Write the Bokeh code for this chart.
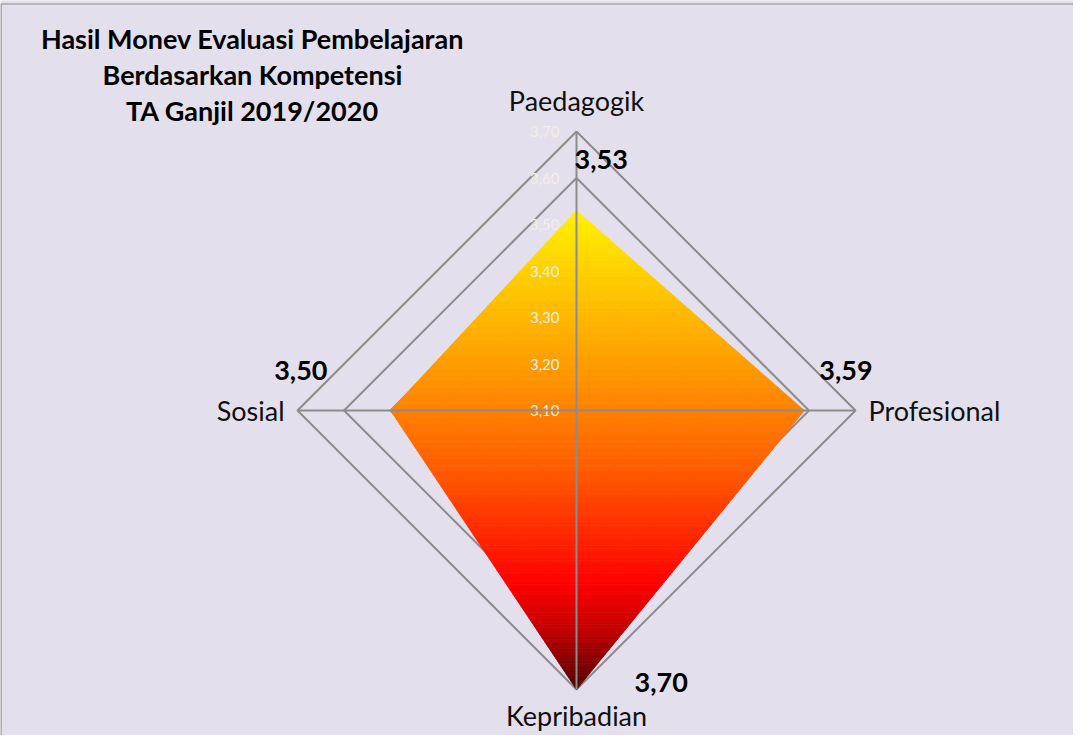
import numpy as np
from bokeh.plotting import figure
from bokeh.models import Range1d
from bokeh.embed import file_html
from bokeh.resources import INLINE
from bokeh.core.properties import value

# ---------------- data ----------------
title_lines = ["Hasil Monev Evaluasi Pembelajaran", "Berdasarkan Kompetensi", "TA Ganjil 2019/2020"]
categories = ["Paedagogik", "Profesional", "Kepribadian", "Sosial"]
scores = [3.53, 3.59, 3.70, 3.50]
score_labels = ["3,53", "3,59", "3,70", "3,50"]
ticks = [3.10, 3.20, 3.30, 3.40, 3.50, 3.60, 3.70]
tick_labels = ["3,10", "3,20", "3,30", "3,40", "3,50", "3,60", "3,70"]
r_min, r_max = 3.10, 3.70

# ---------------- styles / layout ----------------
W, H = 1073, 735
CX, CY = 576, 410          # centre of radar in figure pixels (from top-left)
R = 279                    # pixel radius of r_max
BG = "#E4DFEC"
GRID = "#8C8C8C"
FONT = value("Lato")

# gradient stops (fraction from top of filled shape, colour)
grad_stops = [(0.00, (255, 242, 0)), (0.19, (255, 192, 0)), (0.36, (255, 146, 0)),
              (0.53, (255, 96, 0)), (0.78, (255, 0, 0)), (0.88, (192, 0, 0)),
              (1.00, (80, 0, 0))]

# per-label offsets (pixels) for value labels
lab_dx = [-2, 15, 58, -63]
lab_dy = [51, 40, 7, 40]
lab_align = ["left", "left", "left", "right"]
# category label gaps beyond the outer ring (top, right, bottom, left)
cat_gap = [31, 13, 26, 13]

n = len(categories)
angles = np.deg2rad(90 - np.arange(n) * 360.0 / n)


def rad(v):
    return (np.asarray(v, dtype=float) - r_min) / (r_max - r_min) * R


p = figure(width=W, height=H, output_backend="svg", toolbar_location=None,
           x_range=Range1d(-CX, W - CX), y_range=Range1d(-(H - CY), CY),
           min_border=0, background_fill_color=BG, border_fill_color=BG)
p.axis.visible = False
p.grid.visible = False
p.outline_line_color = None

# chart border (left & top visible)
p.line([-CX + 0.5, -CX + 0.5, W - CX], [-(H - CY), CY - 3.5, CY - 3.5], line_color="#8C8C8C", line_width=1.2)

# grid diamonds
for t in ticks[1:]:
    rr = rad(t)
    gx = list(rr * np.cos(angles)) + [rr * np.cos(angles[0])]
    gy = list(rr * np.sin(angles)) + [rr * np.sin(angles[0])]
    p.line(gx, gy, line_color=GRID, line_width=2)

# filled polygon with vertical gradient (banded)
rs = rad(scores)
px = rs * np.cos(angles)
py = rs * np.sin(angles)
poly = list(zip(px, py))
ymax, ymin = py.max(), py.min()


def clip(polyg, ylim, keep_above):
    def inside(pt):
        return pt[1] >= ylim if keep_above else pt[1] <= ylim

    def inter(a, b):
        t = (ylim - a[1]) / (b[1] - a[1])
        return (a[0] + t * (b[0] - a[0]), ylim)

    out = []
    for i in range(len(polyg)):
        cur, prev = polyg[i], polyg[i - 1]
        if inside(cur):
            if not inside(prev):
                out.append(inter(prev, cur))
            out.append(cur)
        elif inside(prev):
            out.append(inter(prev, cur))
    return out


def grad_color(f):
    for (f0, c0), (f1, c1) in zip(grad_stops[:-1], grad_stops[1:]):
        if f <= f1:
            k = (f - f0) / (f1 - f0) if f1 > f0 else 0
            c = [int(round(c0[j] + k * (c1[j] - c0[j]))) for j in range(3)]
            return "#%02x%02x%02x" % tuple(c)
    return "#%02x%02x%02x" % grad_stops[-1][1]


nb = 200
edges = np.linspace(ymax, ymin, nb + 1)
bx, by, bc = [], [], []
for i in range(nb):
    y_top, y_bot = edges[i], edges[i + 1]
    pc = clip(clip(poly, y_bot, True), y_top, False)
    if len(pc) < 3:
        continue
    bx.append([q[0] for q in pc])
    by.append([q[1] for q in pc])
    bc.append(grad_color((ymax - 0.5 * (y_top + y_bot)) / (ymax - ymin)))
p.patches(bx, by, fill_color=bc, line_color=bc, line_width=0.8)

# tick labels
p.text(x=[-17] * len(ticks), y=list(rad(ticks)), text=tick_labels,
       text_font=FONT, text_font_size="15px", text_color="#F2EFE4",
       text_align="right", text_baseline="middle")

# spokes
for a in angles:
    p.line([0, R * np.cos(a)], [0, R * np.sin(a)], line_color=GRID, line_width=2)

# category labels
cat_x, cat_y, cat_al = [], [], []
for i, a in enumerate(angles):
    ca, sa = np.cos(a), np.sin(a)
    if abs(sa) > 0.5:
        cat_x.append(0)
        cat_y.append((R + cat_gap[i]) * np.sign(sa))
        cat_al.append("center")
    else:
        cat_x.append((R + cat_gap[i]) * np.sign(ca))
        cat_y.append(0)
        cat_al.append("left" if ca > 0 else "right")
p.text(x=cat_x, y=cat_y, text=categories, text_align=cat_al, text_baseline="middle",
       text_font=FONT, text_font_size="27px", text_color="#111111")

# value labels
vx = [px[i] + lab_dx[i] for i in range(n)]
vy = [py[i] + lab_dy[i] for i in range(n)]
p.text(x=vx, y=vy, text=score_labels, text_align=lab_align, text_baseline="middle",
       text_font=FONT, text_font_size="27px", text_font_style="bold", text_color="#000000")

# title
p.text(x=[-324] * 3, y=[372 - 36 * i for i in range(3)], text=title_lines,
       text_align="center", text_baseline="middle", text_font=FONT,
       text_font_size="27px", text_font_style="bold", text_color="#000000")

open("out.html", "w").write(file_html(p, INLINE))
